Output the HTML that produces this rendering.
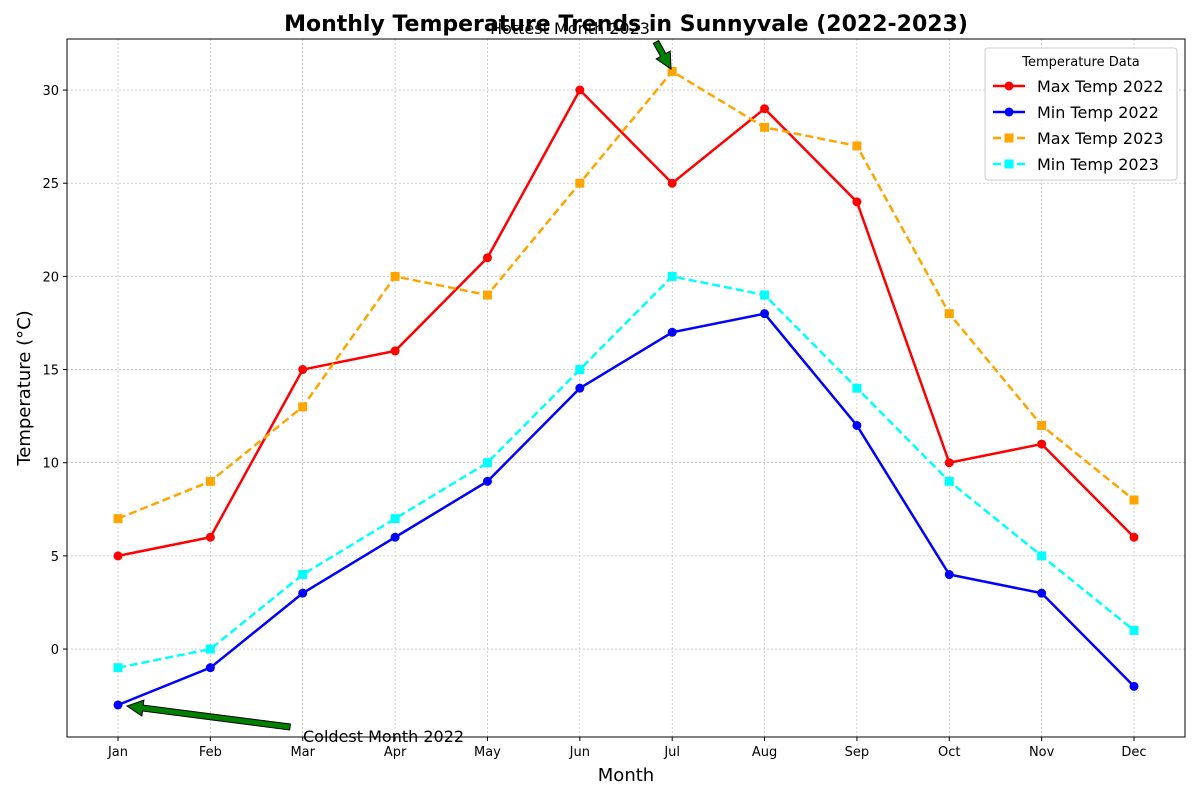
<!DOCTYPE html>
<html><head><meta charset="utf-8"><style>
body{margin:0;background:#fff;font-family:"Liberation Sans","DejaVu Sans",sans-serif;}
svg text{font-family:"DejaVu Sans","Liberation Sans",sans-serif;}
</style></head><body>
<svg id="c" width="1200" height="800" xmlns="http://www.w3.org/2000/svg"></svg>
<script>
const months=["Jan","Feb","Mar","Apr","May","Jun","Jul","Aug","Sep","Oct","Nov","Dec"];
const max2022=[5,6,15,16,21,30,25,29,24,10,11,6];
const min2022=[-3,-1,3,6,9,14,17,18,12,4,3,-2];
const max2023=[7,9,13,20,19,25,31,28,27,18,12,8];
const min2023=[-1,0,4,7,10,15,20,19,14,9,5,1];
const yTicks=[0,5,10,15,20,25,30];
const seriesNames=["Max Temp 2022","Min Temp 2022","Max Temp 2023","Min Temp 2023"];

const NS="http://www.w3.org/2000/svg";
const svg=document.getElementById('c');
const L=67,R=1185,T=39,B=737;
const yMin=-4.72,yMax=32.74;
const x=i=>118+i*(1134-118)/(months.length-1);
const y=v=>B-(v-yMin)/(yMax-yMin)*(B-T);
function el(tag,attrs,parent){const e=document.createElementNS(NS,tag);for(const k in attrs)e.setAttribute(k,attrs[k]);(parent||svg).appendChild(e);return e;}

yTicks.forEach(v=>{const g=el('line',{x1:L,x2:R,y1:y(v),y2:y(v),stroke:'#b0b0b0','stroke-width':0.6,'stroke-dasharray':'2,2'});

});
months.forEach((m,i)=>{const g=el('line',{x1:x(i),x2:x(i),y1:T,y2:B,stroke:'#b0b0b0','stroke-width':0.6,'stroke-dasharray':'2,2'});

});

yTicks.forEach(v=>{el('line',{x1:L-4,x2:L,y1:y(v),y2:y(v),stroke:'#000'});
const t=el('text',{x:L-8,y:y(v)+5,'text-anchor':'end','font-size':13});t.textContent=v;

});
months.forEach((m,i)=>{el('line',{x1:x(i),x2:x(i),y1:B,y2:B+4,stroke:'#000'});
const t=el('text',{x:x(i),y:B+19,'text-anchor':'middle','font-size':13});t.textContent=m;

});

const series=[
 {d:max2022,c:'#ff0000',dash:'',mk:'circle'},
 {d:min2022,c:'#0000ff',dash:'',mk:'circle'},
 {d:max2023,c:'#ffa500',dash:'8,4',mk:'square'},
 {d:min2023,c:'#00ffff',dash:'8,4',mk:'square'}];
series.forEach((s,si)=>{
 const g=el('g',{});
 
 
 el('polyline',{points:s.d.map((v,i)=>x(i)+','+y(v)).join(' '),fill:'none',stroke:s.c,'stroke-width':2.5,'stroke-dasharray':s.dash},g);
 s.d.forEach((v,i)=>{let m;
  if(s.mk=='circle')m=el('circle',{cx:x(i),cy:y(v),r:4.5,fill:s.c},g);
  else m=el('rect',{x:x(i)-4.5,y:y(v)-4.5,width:9,height:9,fill:s.c},g);
  
  });
});

el('rect',{x:L,y:T,width:R-L,height:B-T,fill:'none',stroke:'#000','stroke-width':1});

function arrow(x1,y1,x2,y2){const a=Math.atan2(y2-y1,x2-x1);
 const hl=16,hw=8,sw=3;const ux=Math.cos(a),uy=Math.sin(a),px=-uy,py=ux;
 const bx=x2-ux*hl,by=y2-uy*hl;
 const pts=[[x1+px*sw,y1+py*sw],[bx+px*sw,by+py*sw],[bx+px*hw,by+py*hw],[x2,y2],[bx-px*hw,by-py*hw],[bx-px*sw,by-py*sw],[x1-px*sw,y1-py*sw]];
 const p=el('polygon',{points:pts.map(p=>p.join(',')).join(' '),fill:'#008000',stroke:'#000','stroke-width':1});
 
 }
arrow(656,42,671,69);
arrow(290,727,127,706);
let t=el('text',{x:570,y:34,'text-anchor':'middle','font-size':16});t.textContent='Hottest Month 2023';


t=el('text',{x:303,y:742,'font-size':16});t.textContent='Coldest Month 2022';



t=el('text',{x:626,y:31,'text-anchor':'middle','font-size':22,'font-weight':'bold'});t.textContent='Monthly Temperature Trends in Sunnyvale (2022-2023)';


t=el('text',{x:626,y:781,'text-anchor':'middle','font-size':18});t.textContent='Month';


t=el('text',{x:30,y:388,'text-anchor':'middle','font-size':18,transform:'rotate(-90 30 388)'});t.textContent='Temperature (°C)';



const lg=el('g',{});


el('rect',{x:985,y:48,width:192,height:132,rx:3,fill:'#fff','fill-opacity':0.85,stroke:'#ccc'},lg);
t=el('text',{x:1081,y:66,'text-anchor':'middle','font-size':13},lg);t.textContent='Temperature Data';
series.forEach((s,i)=>{const yy=86+i*26;
 const e=el('g',{},lg);
 
 
 el('line',{x1:993,x2:1025,y1:yy,y2:yy,stroke:s.c,'stroke-width':2.5,'stroke-dasharray':s.dash},e);
 if(s.mk=='circle')el('circle',{cx:1009,cy:yy,r:4.5,fill:s.c},e);else el('rect',{x:1004.5,y:yy-4.5,width:9,height:9,fill:s.c},e);
 const tt=el('text',{x:1037,y:yy+6,'font-size':16},e);tt.textContent=seriesNames[i];});
</script>
</body></html>
